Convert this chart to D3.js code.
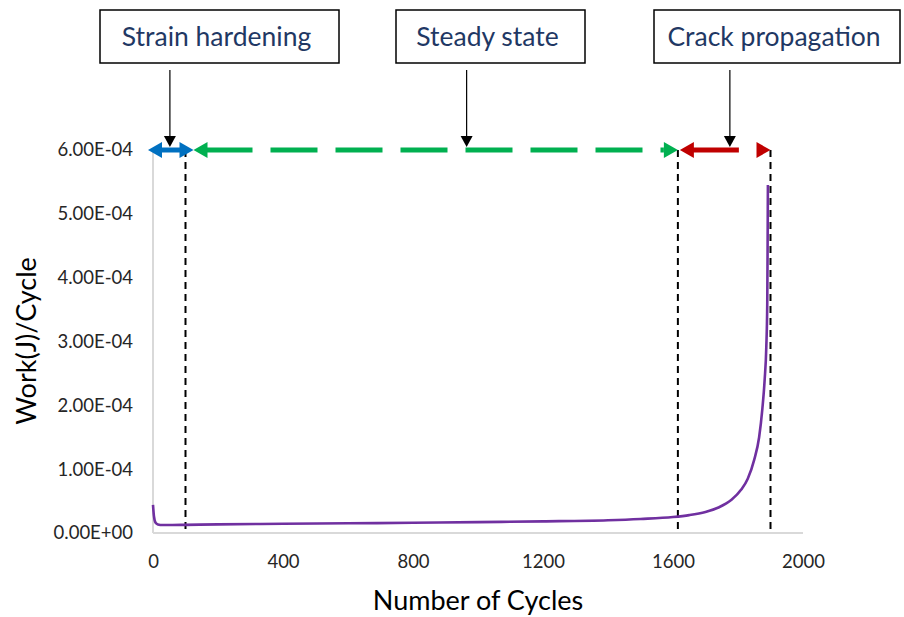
<!DOCTYPE html>
<html>
<head>
<meta charset="utf-8">
<script src="https://cdn.jsdelivr.net/npm/d3@7"></script>
<style>
  html, body { margin: 0; padding: 0; background: #fff; }
  svg { display: block; }
  text { font-family: Lato, "Open Sans", sans-serif; }
</style>
</head>
<body>
<svg id="chart" width="904" height="617"></svg>
<script>
// Work per cycle measured over a fatigue test
const cycles = [0, 3, 8, 15, 30, 60, 100, 200, 400, 600, 800, 1000, 1200, 1400, 1500, 1600, 1650, 1700, 1740, 1780, 1810, 1830, 1850, 1865, 1875, 1882, 1887, 1890, 1891, 1892];
const work   = [4.4e-5, 2.6e-5, 1.6e-5, 1.35e-5, 1.25e-5, 1.25e-5, 1.28e-5, 1.35e-5, 1.45e-5, 1.52e-5, 1.6e-5, 1.7e-5, 1.82e-5, 2.0e-5, 2.2e-5, 2.5e-5, 2.8e-5, 3.3e-5, 4.0e-5, 5.2e-5, 6.8e-5, 8.5e-5, 1.15e-4, 1.5e-4, 1.95e-4, 2.4e-4, 2.9e-4, 3.6e-4, 4.4e-4, 5.45e-4];

const xTicks = [0, 400, 800, 1200, 1600, 2000];
const yTicks = [0, 1e-4, 2e-4, 3e-4, 4e-4, 5e-4, 6e-4];

// Stage boundaries (cycles) and stage labels
const stageBounds = [0, 100, 1615, 1900];
const stageNames = ["Strain hardening", "Steady state", "Crack propagation"];
const stageColors = ["#0070c0", "#00b050", "#c00000"];

const svg = d3.select("#chart");
const x = d3.scaleLinear().domain([0, 2000]).range([153, 803]);
const y = d3.scaleLinear().domain([0, 6e-4]).range([533, 150]);

// Axis lines
svg.append("line").attr("x1", x(0)).attr("x2", x(2000)).attr("y1", y(0)).attr("y2", y(0))
  .attr("stroke", "#d9d9d9").attr("stroke-width", 2);
svg.append("line").attr("x1", x(0)).attr("x2", x(0)).attr("y1", y(0)).attr("y2", y(6e-4))
  .attr("stroke", "#d9d9d9").attr("stroke-width", 2);

// Tick labels
const xAxis = d3.axisBottom(x).tickValues(xTicks).tickSize(0).tickPadding(0).tickFormat(d3.format("d"));
const gx = svg.append("g").attr("transform", `translate(0,${y(0) + 29})`).call(xAxis);
gx.select(".domain").remove();
gx.selectAll("text").attr("font-size", 18.5).attr("fill", "#262626").attr("dy", "0.35em")
  .style("font-family", "Lato, sans-serif");

const fmtE = d => d === 0 ? "0.00E+00" : d.toExponential(2).toUpperCase().replace(/E-(\d)$/, "E-0$1");
const yAxis = d3.axisLeft(y).tickValues(yTicks).tickSize(0).tickPadding(0).tickFormat(fmtE);
const gy = svg.append("g").attr("transform", `translate(${x(0) - 20},0)`).call(yAxis);
gy.select(".domain").remove();
gy.selectAll("text").attr("font-size", 18.5).attr("fill", "#262626")
  .style("font-family", "Lato, sans-serif");

// Axis titles
svg.append("text").attr("x", 478).attr("y", 610).attr("text-anchor", "middle")
  .attr("font-size", 27).attr("fill", "#000").text("Number of Cycles");
svg.append("text").attr("transform", "translate(36,341) rotate(-90)").attr("text-anchor", "middle")
  .attr("font-size", 27).attr("fill", "#000").text("Work(J)/Cycle");

// Stage boundary markers
stageBounds.slice(1).forEach(b => {
  svg.append("line").attr("x1", x(b)).attr("x2", x(b)).attr("y1", y(6e-4)).attr("y2", y(0))
    .attr("stroke", "#000").attr("stroke-width", 2).attr("stroke-dasharray", "7,5");
});

// Work curve
const line = d3.line().x((d, i) => x(cycles[i])).y(d => y(d)).curve(d3.curveMonotoneX);
svg.append("path").datum(work).attr("d", line).attr("fill", "none")
  .attr("stroke", "#7030a0").attr("stroke-width", 2.6);

// Stage span arrows along the top of the plot
const ay = y(6e-4);
const headW = 14, headH = 8;
function head(tipX, dir, color) {
  svg.append("path")
    .attr("d", `M${tipX},${ay} L${tipX + dir * headW},${ay - headH} L${tipX + dir * headW},${ay + headH} Z`)
    .attr("fill", color);
}
function span(x0, x1, color, dash) {
  svg.append("line").attr("x1", x0).attr("x2", x1).attr("y1", ay).attr("y2", ay)
    .attr("stroke", color).attr("stroke-width", 5).attr("stroke-dasharray", dash || null);
}
// strain hardening
const b0 = x(stageBounds[0]) - 5, b1 = x(stageBounds[1]) + 8;
span(b0 + headW - 2, b1 - headW + 2, stageColors[0]);
head(b0, 1, stageColors[0]);
head(b1, -1, stageColors[0]);
// steady state
const g0 = x(stageBounds[1]) + 8, g1 = x(stageBounds[2]);
span(g0 + headW - 2, g1 - headW, stageColors[1], "47,18");
head(g0, 1, stageColors[1]);
head(g1, -1, stageColors[1]);
// crack propagation
const r0 = x(stageBounds[2]) + 2, r1 = x(stageBounds[3]);
span(r0 + headW - 2, r1 - headW, stageColors[2], "47,18");
head(r0, 1, stageColors[2]);
head(r1, -1, stageColors[2]);

// Label boxes with pointer arrows
const boxes = [
  { x0: 100, x1: 339, px: x(52) },
  { x0: 396, x1: 585, px: x(965) },
  { x0: 654, x1: 900, px: x(1775) }
];
boxes.forEach((b, i) => {
  svg.append("rect").attr("x", b.x0).attr("y", 10).attr("width", b.x1 - b.x0).attr("height", 53)
    .attr("fill", "#fff").attr("stroke", "#000").attr("stroke-width", 1.5);
  svg.append("text").attr("x", (b.x0 + b.x1) / 2 - 3).attr("y", 37).attr("dy", "0.35em")
    .attr("text-anchor", "middle").attr("font-size", 26.5).attr("fill", "#1f3864").text(stageNames[i]);
  svg.append("line").attr("x1", b.px).attr("x2", b.px).attr("y1", 70).attr("y2", ay - 12)
    .attr("stroke", "#000").attr("stroke-width", 1.2);
  svg.append("path").attr("d", `M${b.px - 6},${ay - 14} L${b.px + 6},${ay - 14} L${b.px},${ay - 3} Z`)
    .attr("fill", "#000");
});
</script>
</body>
</html>
